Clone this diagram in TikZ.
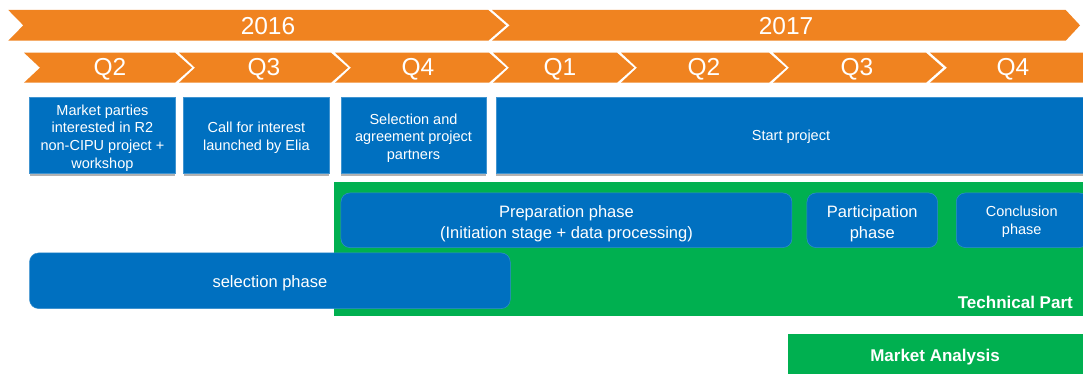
\documentclass[tikz,border=0pt]{standalone}
\usepackage{fontspec}
\setmainfont{Liberation Sans}
\usetikzlibrary{shadows}
\definecolor{orng}{RGB}{240,131,32}
\definecolor{eliablue}{RGB}{0,112,192}
\definecolor{eliagreen}{RGB}{0,176,80}
\tikzset{
  chev/.style={fill=orng},
  yearlbl/.style={text=white, inner sep=0pt, font=\fontsize{24.5}{29}\selectfont},
  topbox/.style={anchor=north west, fill=eliablue, draw=eliablue!75!white, line width=0.5pt,
    inner sep=0pt, minimum height=76pt,
    drop shadow={shadow xshift=0pt, shadow yshift=-2.5pt, opacity=0.3, fill=black}},
  phasebox/.style={anchor=north west, fill=eliablue, draw=eliablue!80!white, line width=0.5pt,
    rounded corners=9pt, inner sep=0pt},
  smalltxt/.style={text=white, align=center, inner sep=0pt, font=\fontsize{14.5}{17.6}\selectfont},
  bigtxt/.style={text=white, align=center, inner sep=0pt, font=\fontsize{16.5}{21}\selectfont},
  greenbox/.style={anchor=north west, fill=eliagreen, draw=none, inner sep=0pt},
  boldlbl/.style={text=white, inner sep=0pt, font=\bfseries\fontsize{17}{20}\selectfont}
}
\begin{document}
\begin{tikzpicture}[x=1pt,y=-1pt]
\useasboundingbox (0,0) rectangle (1083,374);
\fill[white] (0,0) rectangle (1083,374);

% year chevrons
\fill[chev] (8.3,10) -- (488.3,10) -- (506,25.35) -- (488.3,40.7) -- (8.3,40.7) -- (23.3,25.35) -- cycle;
\fill[chev] (492,10) -- (1065.7,10) -- (1080,25.35) -- (1065.7,40.7) -- (492,40.7) -- (509.7,25.35) -- cycle;
\node[yearlbl] (y2016) at (268,26.3) {2016};
\node[yearlbl] (y2017) at (786,26.3) {2017};

% quarter chevrons
\foreach \xa/\xb/\lab/\xc [count=\i] in {24/175/Q2/110, 179/331/Q3/264, 335/489/Q4/418, 493/617/Q1/560, 621/769/Q2/704, 773/926/Q3/857}{
  \fill[chev] (\xa,52.7) -- (\xb,52.7) -- ({\xb+17},67.7) -- (\xb,82.7) -- (\xa,82.7) -- ({\xa+16},67.7) -- cycle;
  \node[yearlbl] (q\i) at (\xc,69.2) {\lab};
}
\fill[chev] (930,52.7) -- (1083,52.7) -- (1083,82.7) -- (930,82.7) -- (947,67.7) -- cycle;
\node[yearlbl] (q7) at (1013,69.2) {Q4};

% top row boxes
\node[topbox, minimum width=145.7pt] (b1) at (29.3,97.3) {};
\node[topbox, minimum width=145.7pt] (b2) at (183.3,97.3) {};
\node[topbox, minimum width=145.5pt] (b3) at (340.5,97.3) {};
\node[topbox, minimum width=588pt] (b4) at (496,97.3) {};
\node[smalltxt] (t1) at ([yshift=-2.5pt]b1.center) {Market parties\\interested in R2\\non-CIPU project +\\workshop};
\node[smalltxt] (t2) at ([yshift=-2.5pt]b2.center) {Call for interest\\launched by Elia};
\node[smalltxt] (t3) at ([yshift=-2.5pt]b3.center) {Selection and\\agreement project\\partners};
\node[smalltxt] (t4) at (791,137) {Start project};

% technical part
\node[greenbox, minimum width=750pt, minimum height=134.3pt] (tech) at (334,181.7) {};
\node[boldlbl, anchor=east] (techlbl) at (1073,302.5) {Technical Part};

% phases
\node[phasebox, minimum width=451pt, minimum height=54.6pt] (prep) at (340.7,192.7) {};
\node[phasebox, minimum width=130.6pt, minimum height=54.6pt] (part) at (806.7,192.7) {};
\node[phasebox, minimum width=132pt, minimum height=54.6pt] (concl) at (956,192.7) {};
\node[phasebox, minimum width=480.7pt, minimum height=55.6pt] (sel) at (29.3,252.7) {};
\node[bigtxt] (t5) at ([yshift=-3.5pt]prep.center) {Preparation phase\\(Initiation stage + data processing)};
\node[bigtxt] (t6) at ([yshift=-3pt]part.center) {Participation\\phase};
\node[smalltxt] (t7) at (1021.7,221.5) {Conclusion\\phase};
\node[bigtxt] (t8) at ([yshift=-2pt]sel.center) {selection phase};

% market analysis
\node[greenbox, minimum width=298pt, minimum height=47pt] (market) at (787.3,333.3) {};
\node[boldlbl] (mtxt) at (935,357) {Market Analysis};
\end{tikzpicture}
\end{document}
